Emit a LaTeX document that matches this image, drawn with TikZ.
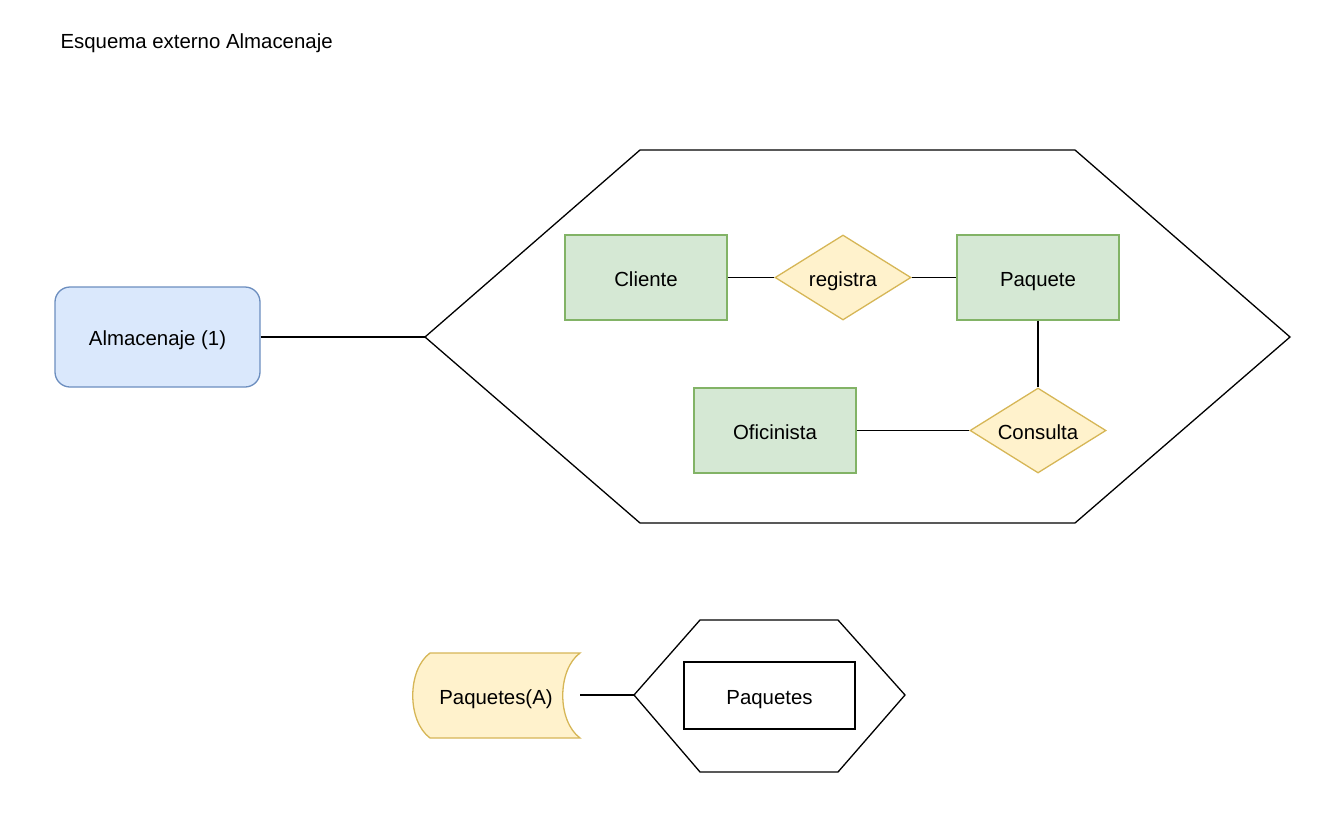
\documentclass[tikz,border=0pt]{standalone}
\usepackage{fontspec}
\setmainfont{Liberation Sans}
\usetikzlibrary{shapes.geometric}
\definecolor{bluefill}{HTML}{DAE8FC}
\definecolor{bluedraw}{HTML}{6C8EBF}
\definecolor{greenfill}{HTML}{D5E8D4}
\definecolor{greendraw}{HTML}{82B366}
\definecolor{yellowfill}{HTML}{FFF2CC}
\definecolor{yellowdraw}{HTML}{D6B656}
\begin{document}
\begin{tikzpicture}[x=1pt,y=-1pt,
  every node/.style={font=\fontsize{20.4}{24}\selectfont},
  lw/.style={line width=1.3pt},
  lowtext/.style={text height=20pt,text depth=3pt},
  entity/.style={lw,lowtext,draw=greendraw,fill=greenfill,minimum width=162pt,minimum height=85pt,inner sep=0pt},
  relation/.style={lw,lowtext,draw=yellowdraw,fill=yellowfill,diamond,aspect=1.6,minimum width=136pt,minimum height=85pt,inner sep=0pt},
  conn/.style={lw,draw=black}]
\useasboundingbox (0,0) rectangle (1338,816);
\node[anchor=west,lowtext] (title) at (57,40) {Esquema externo Almacenaje};
% Almacenaje box
\node[lw,lowtext,draw=bluedraw,fill=bluefill,rounded corners=15pt,minimum width=205pt,minimum height=100pt,inner sep=0pt] (alm) at (157.5,337) {Almacenaje (1)};
% big hexagon
\draw[conn,line join=miter] (425,337) -- (640,150) -- (1075,150) -- (1290,337) -- (1075,523) -- (640,523) -- cycle;
\coordinate (hexL) at (425,337);
\draw[conn] (alm.east) -- (hexL);
% entities
\node[entity] (cli) at (646,277.5) {Cliente};
\node[relation] (reg) at (843,277.5) {registra};
\node[entity] (paq) at (1038,277.5) {Paquete};
\node[entity] (ofi) at (775,430.5) {Oficinista};
\node[relation] (con) at (1038,430.5) {Consulta};
\draw[conn] (cli.east) -- (reg.west);
\draw[conn] (reg.east) -- (paq.west);
\draw[conn] (paq.south) -- (con.north);
\draw[conn] (ofi.east) -- (con.west);
% stored data shape
\draw[lw,draw=yellowdraw,fill=yellowfill] (430,653) -- (580,653) .. controls (557,670) and (557,721) .. (580,738) -- (430,738) .. controls (407,721) and (407,670) .. (430,653) -- cycle;
\node[lowtext] (pa) at (496,696) {Paquetes(A)};
\coordinate (paE) at (580,695);
% small hexagon
\draw[conn,line join=miter] (634,695) -- (700,620) -- (838,620) -- (905,695) -- (838,772) -- (700,772) -- cycle;
\coordinate (shL) at (634,695);
\draw[conn] (paE) -- (shL);
\node[lw,lowtext,draw=black,minimum width=171pt,minimum height=67pt,inner sep=0pt] (paqs) at (769.5,695.5) {Paquetes};
\end{tikzpicture}
\end{document}
